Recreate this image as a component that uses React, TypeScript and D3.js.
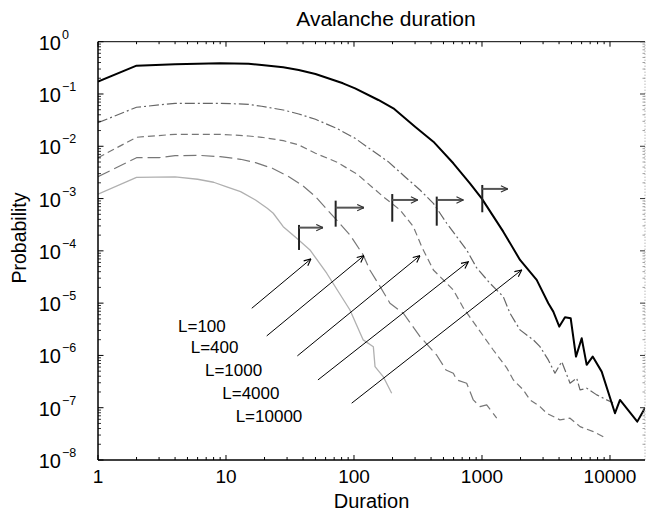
import React from 'react';
import * as d3 from 'd3';

// ---- data ----
const sizeLabels = ['L=100', 'L=400', 'L=1000', 'L=4000', 'L=10000'];

const durL100 = [1, 2, 4, 6, 8, 10, 13, 17, 21, 23.4, 28, 35.7, 45.3, 61.2, 93, 118, 141.6, 146, 169, 197];
const probL100 = [1.21e-3, 2.55e-3, 2.59e-3, 2.34e-3, 2.05e-3, 1.69e-3, 1.36e-3, 9.4e-4, 6.53e-4, 5.24e-4, 2.9e-4, 1.74e-4, 1.04e-4, 3.73e-5, 7.4e-6, 1.98e-6, 1.47e-6, 6.1e-7, 3.94e-7, 1.89e-7];

const durL400 = [1, 2, 3, 4, 6, 9, 13, 17, 23, 31, 40, 50, 73, 93, 118, 133, 160, 191, 243, 328, 442, 523, 597, 634, 759, 855, 965, 1088, 1303];
const probL400 = [2.62e-3, 6.05e-3, 6.05e-3, 6.6e-3, 6.73e-3, 6.33e-3, 5.64e-3, 4.86e-3, 3.8e-3, 2.62e-3, 1.74e-3, 1.09e-3, 3.9e-4, 2.01e-4, 8.35e-5, 4.31e-5, 2.07e-5, 9.95e-6, 6.4e-6, 2.29e-6, 1.02e-6, 5.28e-7, 4.57e-7, 3.4e-7, 2.94e-7, 1.41e-7, 1.05e-7, 1.13e-7, 6.3e-8];

const durL1000 = [1, 2, 4, 9, 15, 19, 28, 37, 50, 73, 105.5, 169, 229, 291, 338, 417, 597, 715, 909, 1225, 1560, 1758, 2104, 2371, 2838, 3200, 4066, 4874, 5834, 7413, 9311];
const probL1000 = [6.05e-3, 0.01486, 0.01695, 0.01695, 0.01574, 0.01486, 0.0128, 0.0106, 0.00735, 0.00501, 0.00295, 0.00109, 6.05e-4, 2.9e-4, 1.2e-4, 4.31e-5, 1.79e-5, 8.1e-6, 3.56e-6, 1.27e-6, 5.77e-7, 3.4e-7, 2.19e-7, 1.41e-7, 1.05e-7, 7.85e-8, 5.85e-8, 6.3e-8, 4.35e-8, 3.49e-8, 2.61e-8];

const durL4000 = [1, 2, 4, 9, 15, 19, 28, 37, 50, 73, 102, 137, 185, 250, 328, 417, 530, 759, 909, 1155, 1466, 1655, 1982, 2518, 2838, 3296, 3716, 4197, 4874, 5495, 5834, 6575, 7875, 9425, 10550];
const probL4000 = [0.0283, 0.0557, 0.0664, 0.0664, 0.0635, 0.0582, 0.0494, 0.0415, 0.0328, 0.0221, 0.0142, 0.0085, 0.00508, 0.00262, 0.00146, 8.1e-4, 3.37e-4, 1.04e-4, 4.71e-5, 2.4e-5, 1.33e-5, 6.4e-6, 3.08e-6, 1.98e-6, 1.47e-6, 8.2e-7, 4.57e-7, 7.6e-7, 2.94e-7, 3.67e-7, 2.19e-7, 2.36e-7, 1.76e-7, 1.41e-7, 1.24e-7];

const durL10000 = [1, 2, 4, 9, 15, 19, 28, 37, 50, 82, 102, 155, 203, 300, 417, 597, 805, 994, 1466, 1982, 2674, 3296, 3607, 4018, 4450, 4930, 5424, 6010, 6575, 7325, 8610, 10940, 11970, 16340, 18760];
const probL10000 = [0.172, 0.348, 0.37, 0.386, 0.38, 0.358, 0.324, 0.288, 0.241, 0.16, 0.128, 0.0768, 0.0533, 0.0237, 0.01225, 0.00473, 0.00196, 0.00101, 2.33e-4, 6.7e-5, 2.78e-5, 9.95e-6, 6.88e-6, 3.56e-6, 5.37e-6, 5.14e-6, 9.5e-7, 2.13e-6, 6.6e-7, 9.5e-7, 4.9e-7, 7.85e-8, 1.41e-7, 5.42e-8, 9.9e-8];

// annotation arrows from the labels to the curves
const arrowFromDur = [15.9, 20.8, 36.1, 52.3, 95.9];
const arrowFromProb = [7.98e-6, 2.36e-6, 9.8e-7, 3.4e-7, 1.22e-7];
const arrowToDur = [46.1, 119.7, 328, 782, 2042];
const arrowToProb = [7.0e-5, 8.1e-5, 8.1e-5, 6.2e-5, 4.31e-5];

// crossover flags
const flagDur = [37.2, 71.9, 199, 443, 1005];
const flagTop = [3.13e-4, 9.12e-4, 1.22e-3, 1.09e-3, 1.82e-3];
const flagBottom = [1.04e-4, 2.9e-4, 3.61e-4, 3.03e-4, 5.47e-4];
const flagArrowProb = [2.78e-4, 6.7e-4, 9.4e-4, 9.4e-4, 1.53e-3];
const flagArrowEnd = [57.3, 119.7, 314.5, 714, 1588];

// label anchor points
const labelDur = [4.22, 5.3, 6.85, 9.35, 11.9];
const labelProb = [2.85e-6, 1.13e-6, 4.06e-7, 1.49e-7, 5.28e-8];

const xTickValues = [1, 10, 100, 1000, 10000];
const xTickLabels = ['1', '10', '100', '1000', '10000'];
const yExponents = [0, -1, -2, -3, -4, -5, -6, -7, -8];

const W = 646;
const H = 514;
const margin = { top: 41.7, right: 1, bottom: 54, left: 98 };
const FONT = "'Liberation Sans', Arial, Helvetica, sans-serif";

const App = () => {
  const x = d3.scaleLog().domain([1, 18770]).range([margin.left, W - margin.right]);
  const y = d3.scaleLog().domain([1e-8, 1]).range([H - margin.bottom, margin.top]);

  const series = [
    { dur: durL100, prob: probL100, stroke: '#b0b0b0', width: 1.3, dash: null },
    { dur: durL400, prob: probL400, stroke: '#777', width: 1.2, dash: '13,5' },
    { dur: durL1000, prob: probL1000, stroke: '#777', width: 1.2, dash: '7,4' },
    { dur: durL4000, prob: probL4000, stroke: '#666', width: 1.2, dash: '10,3,2,3' },
    { dur: durL10000, prob: probL10000, stroke: '#000', width: 2, dash: null },
  ];

  const line = d3.line<[number, number]>()
    .x(d => x(d[0]))
    .y(d => y(d[1]));

  const x0 = margin.left;
  const x1 = W - margin.right;
  const y0 = H - margin.bottom;
  const y1 = margin.top;

  // minor ticks for both log axes
  const xMinor: number[] = [];
  for (let e = 0; e <= 4; e++) for (let k = 2; k <= 9; k++) {
    const v = k * Math.pow(10, e);
    if (v <= 18770) xMinor.push(v);
  }
  const yMinor: number[] = [];
  for (let e = -8; e < 0; e++) for (let k = 2; k <= 9; k++) yMinor.push(k * Math.pow(10, e));
  const yMajor = yExponents.map(e => Math.pow(10, e));

  return (
    <svg width={W} height={H} style={{ position: 'absolute', left: 0, top: 0, background: '#fff' }} fontFamily={FONT}>
      <defs>
        <marker id="head" viewBox="0 0 10 10" refX="9.5" refY="5" markerWidth="8" markerHeight="8"
          markerUnits="userSpaceOnUse" orient="auto">
          <path d="M1,1 L9.5,5 L1,9" fill="none" stroke="#000" strokeWidth="1.4" />
        </marker>
        <marker id="headGray" viewBox="0 0 10 10" refX="9.5" refY="5" markerWidth="8" markerHeight="8"
          markerUnits="userSpaceOnUse" orient="auto">
          <path d="M1,1 L9.5,5 L1,9" fill="none" stroke="#333" strokeWidth="1.4" />
        </marker>
        <clipPath id="plot">
          <rect x={x0} y={y1} width={x1 - x0} height={y0 - y1} />
        </clipPath>
      </defs>

      {/* title */}
      <text x={386} y={26} fontSize={21} textAnchor="middle">Avalanche duration</text>

      {/* curves */}
      <g clipPath="url(#plot)">
        {series.map((s, i) => (
          <path key={i}
            d={line(s.dur.map((d, j) => [d, s.prob[j]] as [number, number])) || ''}
            fill="none" stroke={s.stroke} strokeWidth={s.width}
            strokeDasharray={s.dash || undefined} strokeLinejoin="round" />
        ))}
      </g>

      {/* arrows from labels */}
      {arrowFromDur.map((d, i) => (
        <line key={'a' + i} x1={x(d)} y1={y(arrowFromProb[i])} x2={x(arrowToDur[i])} y2={y(arrowToProb[i])}
          stroke="#000" strokeWidth={1} markerEnd="url(#head)" />
      ))}

      {/* crossover flags */}
      {flagDur.map((d, i) => (
        <g key={'f' + i}>
          <line x1={x(d)} x2={x(d)} y1={y(flagTop[i])} y2={y(flagBottom[i])} stroke="#222" strokeWidth={2} />
          <line x1={x(d)} x2={x(flagArrowEnd[i])} y1={y(flagArrowProb[i])} y2={y(flagArrowProb[i])}
            stroke="#555" strokeWidth={2} markerEnd="url(#headGray)" />
        </g>
      ))}

      {/* labels */}
      {sizeLabels.map((t, i) => (
        <text key={'l' + i} x={x(labelDur[i])} y={y(labelProb[i])} fontSize={17}>{t}</text>
      ))}

      {/* frame */}
      <line x1={x0} x2={x1} y1={y1} y2={y1} stroke="#000" strokeWidth={1} />
      <line x1={x1} x2={x1} y1={y1} y2={y0} stroke="#999" strokeWidth={1} strokeDasharray="1,2" />
      <line x1={x0} x2={x1} y1={y0} y2={y0} stroke="#000" strokeWidth={1.5} />
      <line x1={x0} x2={x0} y1={y1} y2={y0} stroke="#000" strokeWidth={1.5} />

      {/* x ticks */}
      {xTickValues.map(v => (
        <g key={'xt' + v}>
          <line x1={x(v)} x2={x(v)} y1={y0} y2={y0 - 5} stroke="#000" />
          <line x1={x(v)} x2={x(v)} y1={y1} y2={y1 + 5} stroke="#000" />
        </g>
      ))}
      {xMinor.map(v => (
        <g key={'xm' + v}>
          <line x1={x(v)} x2={x(v)} y1={y0} y2={y0 - 3} stroke="#000" />
          <line x1={x(v)} x2={x(v)} y1={y1} y2={y1 + 2.5} stroke="#000" />
        </g>
      ))}
      {xTickValues.map((v, i) => (
        <text key={'xl' + v} x={x(v)} y={y0 + 23} fontSize={19} textAnchor="middle">{xTickLabels[i]}</text>
      ))}

      {/* y ticks */}
      {yMajor.map(v => (
        <g key={'yt' + v}>
          <line x1={x0} x2={x0 + 5.5} y1={y(v)} y2={y(v)} stroke="#000" />
          <line x1={x1} x2={x1 - 5} y1={y(v)} y2={y(v)} stroke="#333" />
        </g>
      ))}
      {yMinor.map(v => (
        <g key={'ym' + v}>
          <line x1={x0} x2={x0 + 3} y1={y(v)} y2={y(v)} stroke="#000" strokeWidth={0.8} />
          <line x1={x1} x2={x1 - 2.5} y1={y(v)} y2={y(v)} stroke="#888" strokeWidth={0.8} />
        </g>
      ))}
      {yExponents.map(e => (
        <g key={'yl' + e}>
          <text x={61} y={y(Math.pow(10, e)) + 8} fontSize={20} textAnchor="end">10</text>
          <text x={62} y={y(Math.pow(10, e)) - 3} fontSize={12.5}>{e === 0 ? '0' : '\u2212' + Math.abs(e)}</text>
        </g>
      ))}

      {/* axis titles */}
      <text x={(x0 + x1) / 2} y={508} fontSize={20} textAnchor="middle">Duration</text>
      <text transform={`translate(26,238) rotate(-90)`} fontSize={19.5} textAnchor="middle">Probability</text>
    </svg>
  );
};

export default App;
